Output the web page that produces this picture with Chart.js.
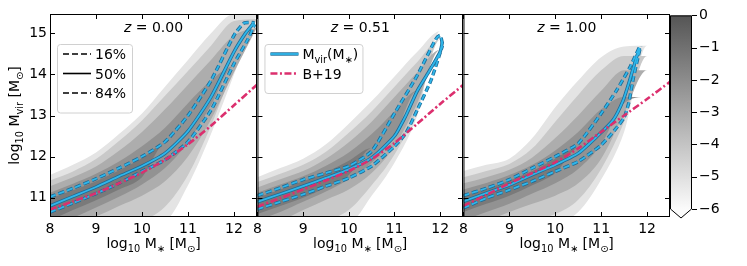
<!DOCTYPE html>
<html lang="en">
<head>
  <meta charset="UTF-8">
  <title>Halo mass vs stellar mass</title>
  <script src="https://cdn.jsdelivr.net/npm/chart.js"></script>
  <style>
    body {
      margin: 0;
      background-color: #fff;
    }
    #wrap {
      position: relative;
      width: 747px;
      height: 266px;
    }
    canvas {
      position: absolute;
      top: 0;
    }
  </style>
</head>
<body>
  <div id="wrap">
    <canvas id="p0" width="265" height="266" style="left:0px"></canvas>
    <canvas id="p1" width="222" height="266" style="left:249px"></canvas>
    <canvas id="p2" width="223" height="266" style="left:455px"></canvas>
    <canvas id="cb" width="85" height="266" style="left:662px"></canvas>
  </div>

  <script>
    // axes
    const xTicks = [8, 9, 10, 11, 12];
    const yTicks = [11, 12, 13, 14, 15];
    const cbTicks = [0, -1, -2, -3, -4, -5, -6];
    const redshifts = ['0.00', '0.51', '1.00'];

    // 2D histogram, read as nested shading levels (outer = faint ... inner = dark)
    const histX = [8, 8.5, 9, 9.5, 10, 10.5, 11, 11.5, 12, 12.5];
    const histHiZ0 = [
      [11.55, 11.8, 12.1, 12.55, 13.05, 13.7, 14.35, 15.0, 15.47, 15.47],
      [11.42, 11.64, 11.94, 12.38, 12.88, 13.48, 14.08, 14.7, 15.3, 15.35],
      [11.28, 11.5, 11.76, 12.14, 12.6, 13.15, 13.75, 14.35, 14.95, 15.15],
      [11.12, 11.34, 11.58, 11.88, 12.25, 12.7, 13.3, 13.85, 14.2, 14.2],
      [10.98, 11.18, 11.4, 11.66, 11.96, 12.3, 12.3, 12.3, 12.3, 12.3]
    ];
    const histLoZ0 = [
      [10.4, 10.4, 10.4, 10.4, 10.4, 10.45, 11.3, 12.55, 14.0, 15.47],
      [10.4, 10.4, 10.4, 10.4, 10.45, 10.78, 11.55, 12.75, 14.15, 15.35],
      [10.4, 10.4, 10.55, 10.8, 11.05, 11.4, 12.0, 12.9, 14.05, 15.15],
      [10.4, 10.52, 10.76, 11.02, 11.32, 11.72, 12.35, 13.25, 14.2, 14.2],
      [10.45, 10.7, 10.94, 11.2, 11.5, 12.3, 12.3, 12.3, 12.3, 12.3]
    ];
    const histHiZ1 = [
      [11.5, 11.72, 11.95, 12.3, 12.8, 13.35, 13.95, 14.55, 15.05, 15.05],
      [11.38, 11.58, 11.8, 12.12, 12.58, 13.1, 13.7, 14.3, 14.85, 14.85],
      [11.25, 11.45, 11.65, 11.95, 12.35, 12.85, 13.45, 14.05, 14.6, 14.6],
      [11.12, 11.32, 11.52, 11.78, 12.1, 12.55, 13.1, 13.6, 13.6, 13.6],
      [11.0, 11.2, 11.4, 11.62, 11.9, 12.2, 12.2, 12.2, 12.2, 12.2]
    ];
    const histLoZ1 = [
      [10.4, 10.4, 10.4, 10.4, 10.4, 11.05, 11.85, 13.0, 15.05, 15.05],
      [10.4, 10.4, 10.4, 10.45, 10.7, 11.3, 12.05, 13.15, 14.85, 14.85],
      [10.4, 10.45, 10.7, 10.95, 11.2, 11.6, 12.25, 13.3, 14.6, 14.6],
      [10.45, 10.65, 10.9, 11.15, 11.45, 11.85, 12.5, 13.6, 13.6, 13.6],
      [10.6, 10.8, 11.0, 11.25, 11.55, 12.2, 12.2, 12.2, 12.2, 12.2]
    ];
    const histHiZ2 = [
      [11.65, 11.8, 11.95, 12.45, 13.2, 13.85, 14.42, 14.68, 14.7, 14.7],
      [11.5, 11.65, 11.82, 12.2, 12.85, 13.5, 14.1, 14.45, 14.45, 14.45],
      [11.35, 11.5, 11.68, 11.98, 12.45, 13.0, 13.6, 14.1, 14.1, 14.1],
      [11.2, 11.36, 11.55, 11.8, 12.15, 12.6, 13.15, 13.45, 13.45, 13.45],
      [11.05, 11.22, 11.42, 11.65, 11.95, 12.2, 12.2, 12.2, 12.2, 12.2]
    ];
    const histLoZ2 = [
      [10.4, 10.4, 10.4, 10.4, 10.4, 10.65, 11.44, 12.6, 14.7, 14.7],
      [10.4, 10.4, 10.4, 10.45, 10.6, 10.95, 11.7, 12.85, 14.45, 14.45],
      [10.4, 10.45, 10.65, 10.85, 11.05, 11.35, 11.95, 13.05, 14.1, 14.1],
      [10.45, 10.65, 10.85, 11.1, 11.35, 11.7, 12.3, 13.3, 13.45, 13.45],
      [10.65, 10.85, 11.05, 11.3, 11.6, 12.2, 12.2, 12.2, 12.2, 12.2]
    ];

    // Mvir(M*) percentiles
    const p50xZ0 = [8, 8.5, 9, 9.5, 10, 10.5, 11, 11.5, 12, 12.25, 12.42];
    const p50yZ0 = [10.8, 11.03, 11.26, 11.52, 11.77, 12.08, 12.62, 13.45, 14.55, 15.0, 15.24];
    const p84xZ0 = [8, 8.5, 9, 9.5, 10, 10.5, 11, 11.5, 12, 12.22, 12.45];
    const p84yZ0 = [11.02, 11.23, 11.46, 11.72, 12.0, 12.36, 13.0, 13.85, 14.95, 15.25, 15.26];
    const p16xZ0 = [8, 8.5, 9, 9.5, 10, 10.5, 11, 11.5, 12, 12.3, 12.45];
    const p16yZ0 = [10.65, 10.87, 11.1, 11.35, 11.64, 11.92, 12.36, 13.13, 14.26, 14.85, 15.22];

    const p50xZ1 = [8, 8.5, 9, 9.5, 10, 10.5, 11, 11.25, 11.5, 11.75, 12.0, 12.05];
    const p50yZ1 = [10.9, 11.09, 11.28, 11.48, 11.69, 11.97, 12.5, 13.0, 13.6, 14.06, 14.55, 14.8];
    const p84xZ1 = [8, 8.5, 9, 9.5, 10, 10.5, 11, 11.5, 11.9, 12.0, 12.05];
    const p84yZ1 = [11.05, 11.24, 11.44, 11.6, 11.77, 12.13, 13.05, 13.98, 14.85, 14.95, 14.75];
    const p16xZ1 = [8, 8.5, 9, 9.5, 10, 10.5, 11, 11.25, 11.5, 11.8, 12.05];
    const p16yZ1 = [10.72, 10.9, 11.08, 11.28, 11.48, 11.77, 12.25, 12.57, 13.14, 13.86, 14.7];

    const p50xZ2 = [8, 8.5, 9, 9.5, 10, 10.5, 10.9, 11.26, 11.48, 11.62, 11.77, 11.84];
    const p50yZ2 = [10.91, 11.11, 11.31, 11.56, 11.8, 12.08, 12.48, 12.89, 13.37, 13.85, 14.42, 14.64];
    const p84xZ2 = [8, 8.5, 9, 9.5, 10, 10.5, 11, 11.33, 11.62, 11.84];
    const p84yZ2 = [11.05, 11.23, 11.44, 11.72, 12.0, 12.32, 13.05, 13.6, 14.16, 14.68];
    const p16xZ2 = [8, 8.5, 9, 9.5, 10, 10.5, 11, 11.3, 11.5, 11.6, 11.7, 11.8, 11.86];
    const p16yZ2 = [10.75, 10.99, 11.19, 11.4, 11.64, 11.88, 12.28, 12.65, 12.95, 13.3, 13.9, 14.4, 14.68];

    // B+19 relation
    const b19x = [8, 8.5, 9, 9.5, 10, 10.5, 11, 11.5, 12, 12.5];
    const b19yZ0 = [10.71, 10.91, 11.11, 11.35, 11.61, 11.92, 12.3, 12.75, 13.25, 13.75];
    const b19yZ1 = [10.78, 10.99, 11.2, 11.42, 11.65, 11.94, 12.33, 12.8, 13.28, 13.74];
    const b19yZ2 = [10.8, 11.07, 11.35, 11.6, 11.86, 12.2, 12.6, 13.0, 13.4, 13.82];

    // styles
    const FONT = 'DejaVu Sans';
    const levelColours = ['#e4e4e4', '#c9c9c9', '#adadad', '#929292', '#7a7a7a'];
    const blue = '#2fb6ea';
    const blueEdge = '#1f6a94';
    const pink = '#dc2f6e';
    const dashed = [6, 3];
    const dashDot = [7, 2.5, 2, 2.5];

    const zip = (xs, ys) => xs.map((x, i) => ({ x: x, y: ys[i] }));

    function drawRich(ctx, parts, x, y, size, align, angle) {
      ctx.save();
      ctx.translate(x, y);
      if (angle) ctx.rotate(angle);
      const fontOf = k => (k === 'i' ? 'italic ' : '') + (k === 's' ? size * 0.7 : size) + 'px "' + FONT + '"';
      let total = 0;
      const widths = parts.map(([t, k]) => {
        ctx.font = fontOf(k);
        const w = ctx.measureText(t).width;
        total += w;
        return w;
      });
      let cx = align === 'center' ? -total / 2 : 0;
      ctx.textAlign = 'left';
      ctx.textBaseline = 'alphabetic';
      ctx.fillStyle = '#000';
      parts.forEach(([t, k], i) => {
        ctx.font = fontOf(k);
        ctx.fillText(t, cx, k === 's' ? size * 0.25 : 0);
        cx += widths[i];
      });
      ctx.restore();
    }

    function strokeLine(ctx, x0, y0, x1, y1, color, width, dash) {
      ctx.save();
      ctx.strokeStyle = color;
      ctx.lineWidth = width;
      ctx.setLineDash(dash || []);
      ctx.beginPath();
      ctx.moveTo(x0, y0);
      ctx.lineTo(x1, y1);
      ctx.stroke();
      ctx.restore();
    }

    // frame, inward ticks, titles, legend
    const decorPlugin = {
      id: 'decor',
      afterDatasetsDraw(chart, args, opts) {
        const { ctx, chartArea: a, scales } = chart;
        ctx.save();
        ctx.strokeStyle = '#000';
        ctx.lineWidth = 1;
        xTicks.forEach(v => {
          const px = Math.round(scales.x.getPixelForValue(v)) + 0.5;
          strokeLine(ctx, px, a.bottom, px, a.bottom - 5, '#000', 1);
          strokeLine(ctx, px, a.top, px, a.top + 5, '#000', 1);
        });
        yTicks.forEach(v => {
          const py = Math.round(scales.y.getPixelForValue(v)) + 0.5;
          strokeLine(ctx, a.left, py, a.left + 5, py, '#000', 1);
          strokeLine(ctx, a.right, py, a.right - 5, py, '#000', 1);
        });
        ctx.strokeRect(a.left + 0.5, a.top + 0.5, a.width - 1, a.height - 1);
        ctx.restore();
      },
      afterDraw(chart, args, opts) {
        const { ctx, chartArea: a } = chart;
        const mid = (a.left + a.right) / 2;
        drawRich(ctx, [['z', 'i'], [' = ' + opts.z, 'n']], mid, a.top + 18, 14, 'center');
        drawRich(ctx, [['log', 'n'], ['10', 's'], [' M', 'n'], ['\u2217', 's'], [' [M', 'n'], ['\u2299', 's'], [']', 'n']],
          mid, 248, 14, 'center');
        if (opts.yTitle) {
          drawRich(ctx, [['log', 'n'], ['10', 's'], [' M', 'n'], ['vir', 's'], [' [M', 'n'], ['\u2299', 's'], [']', 'n']],
            19, (a.top + a.bottom) / 2, 14, 'center', -Math.PI / 2);
        }
        if (opts.legend) {
          const items = opts.legend;
          const bx = a.left + 7, by = a.top + 30;
          const bw = opts.legendWidth, bh = 10 + items.length * 19.5;
          ctx.save();
          ctx.fillStyle = 'rgba(255,255,255,0.8)';
          ctx.strokeStyle = '#d0d0d0';
          ctx.lineWidth = 1;
          ctx.beginPath();
          ctx.roundRect(bx + 0.5, by + 0.5, bw, bh, 3);
          ctx.fill();
          ctx.stroke();
          ctx.restore();
          items.forEach((it, i) => {
            const ry = by + 10 + i * 19.5;
            if (it.edge) strokeLine(ctx, bx + 6, ry, bx + 34, ry, it.edge, 3.4, it.dash);
            strokeLine(ctx, bx + 6, ry, bx + 34, ry, it.color, it.width, it.dash);
            drawRich(ctx, it.label, bx + 38, ry + 5, 14, 'left');
          });
        }
      }
    };

    function bandDatasets(hiLevels, loLevels) {
      const sets = [];
      hiLevels.forEach((hi, i) => {
        sets.push({
          data: zip(histX, hi), fill: '+1', backgroundColor: levelColours[i],
          cubicInterpolationMode: 'monotone',
          borderColor: 'transparent', borderWidth: 0, pointRadius: 0, order: 20 - i
        });
        sets.push({
          data: zip(histX, loLevels[i]), fill: false, cubicInterpolationMode: 'monotone',
          borderColor: 'transparent', borderWidth: 0, pointRadius: 0, order: 20 - i
        });
      });
      return sets;
    }

    function lineSet(xs, ys, color, width, dash, order) {
      return {
        data: zip(xs, ys), borderColor: color, borderWidth: width, borderDash: dash,
        pointRadius: 0, fill: false, tension: 0.2, order: order
      };
    }

    const panels = [
      { id: 'p0', z: redshifts[0], padL: 0, yAxis: true, hi: histHiZ0, lo: histLoZ0,
        p50: [p50xZ0, p50yZ0], p84: [p84xZ0, p84yZ0], p16: [p16xZ0, p16yZ0], b19: b19yZ0,
        legend: [
          { label: [['16%', 'n']], color: '#000', width: 1.6, dash: dashed },
          { label: [['50%', 'n']], color: '#000', width: 1.6, dash: [] },
          { label: [['84%', 'n']], color: '#000', width: 1.6, dash: dashed }
        ], legendWidth: 75 },
      { id: 'p1', z: redshifts[1], padL: 8, yAxis: false, hi: histHiZ1, lo: histLoZ1,
        p50: [p50xZ1, p50yZ1], p84: [p84xZ1, p84yZ1], p16: [p16xZ1, p16yZ1], b19: b19yZ1,
        legend: [
          { label: [['M', 'n'], ['vir', 's'], ['(M', 'n'], ['\u2217', 's'], [')', 'n']], color: blue, edge: blueEdge, width: 1.8, dash: [] },
          { label: [['B+19', 'n']], color: pink, width: 2.6, dash: dashDot }
        ], legendWidth: 98 },
      { id: 'p2', z: redshifts[2], padL: 8, yAxis: false, hi: histHiZ2, lo: histLoZ2,
        p50: [p50xZ2, p50yZ2], p84: [p84xZ2, p84yZ2], p16: [p16xZ2, p16yZ2], b19: b19yZ2,
        legend: null }
    ];

    panels.forEach(p => {
      const datasets = bandDatasets(p.hi, p.lo).concat([
        lineSet(p.p84[0], p.p84[1], blueEdge, 3.4, dashed, 5),
        lineSet(p.p16[0], p.p16[1], blueEdge, 3.4, dashed, 5),
        lineSet(p.p50[0], p.p50[1], blueEdge, 3.4, [], 5),
        lineSet(p.p84[0], p.p84[1], blue, 1.8, dashed, 4),
        lineSet(p.p16[0], p.p16[1], blue, 1.8, dashed, 4),
        lineSet(p.p50[0], p.p50[1], blue, 1.8, [], 4),
        lineSet(b19x, p.b19, pink, 2.6, dashDot, 1)
      ]);
      new Chart(document.getElementById(p.id), {
        type: 'line',
        data: { datasets: datasets },
        options: {
          responsive: false,
          devicePixelRatio: 1,
          animation: false,
          events: [],
          layout: { padding: { left: p.padL, right: 8, top: 14, bottom: 0 } },
          plugins: {
            legend: { display: false },
            tooltip: { enabled: false },
            decor: { z: p.z, yTitle: p.yAxis, legend: p.legend, legendWidth: p.legendWidth }
          },
          scales: {
            x: {
              type: 'linear', min: 8, max: 12.5,
              grid: { display: false, drawTicks: false }, border: { display: false },
              afterBuildTicks: s => { s.ticks = xTicks.map(v => ({ value: v })); },
              afterFit: s => { s.height = 49; },
              ticks: { padding: 4, color: '#000', font: { family: FONT, size: 14 }, maxRotation: 0 }
            },
            y: {
              type: 'linear', min: 10.53, max: 15.47, display: p.yAxis,
              grid: { display: false, drawTicks: false }, border: { display: false },
              afterBuildTicks: s => { s.ticks = yTicks.map(v => ({ value: v })); },
              afterFit: s => { s.width = p.yAxis ? 50 : 0; },
              ticks: { padding: 3, color: '#000', font: { family: FONT, size: 14 } }
            }
          }
        },
        plugins: [decorPlugin]
      });
    });

    // colour bar
    function barGradient(context) {
      const a = context.chart.chartArea;
      if (!a) return '#999';
      const g = context.chart.ctx.createLinearGradient(0, a.bottom, 0, a.top);
      g.addColorStop(0, '#fbfbfb');
      g.addColorStop(1, '#555555');
      return g;
    }

    const colourbarPlugin = {
      id: 'colourbar',
      afterDatasetsDraw(chart) {
        const { ctx, chartArea: a, scales } = chart;
        ctx.save();
        ctx.fillStyle = '#fbfbfb';
        ctx.strokeStyle = '#000';
        ctx.lineWidth = 1;
        ctx.beginPath();
        ctx.moveTo(a.left + 0.5, a.bottom);
        ctx.lineTo((a.left + a.right) / 2, a.bottom + 9);
        ctx.lineTo(a.right - 0.5, a.bottom);
        ctx.closePath();
        ctx.fill();
        ctx.beginPath();
        ctx.moveTo(a.left + 0.5, a.top + 0.5);
        ctx.lineTo(a.right - 0.5, a.top + 0.5);
        ctx.lineTo(a.right - 0.5, a.bottom);
        ctx.lineTo((a.left + a.right) / 2, a.bottom + 9);
        ctx.lineTo(a.left + 0.5, a.bottom);
        ctx.closePath();
        ctx.stroke();
        cbTicks.forEach(v => {
          const py = Math.round(scales.y.getPixelForValue(v)) + 0.5;
          strokeLine(ctx, a.right, py, a.right + 5, py, '#000', 1);
        });
        ctx.restore();
        drawRich(ctx, [['log', 'n'], ['10', 's'], [' halo frac. / bin size', 'n']],
          736, 116, 14, 'center', -Math.PI / 2);
      }
    };

    new Chart(document.getElementById('cb'), {
      type: 'bar',
      data: {
        labels: [''],
        datasets: [{ data: [[-6, 0]], backgroundColor: barGradient, borderWidth: 0,
          barPercentage: 1, categoryPercentage: 1 }]
      },
      options: {
        responsive: false,
        devicePixelRatio: 1,
        animation: false,
        events: [],
        layout: { padding: { left: 8, right: 0, top: 14, bottom: 57 } },
        plugins: { legend: { display: false }, tooltip: { enabled: false } },
        scales: {
          x: { display: false },
          y: {
            position: 'right', min: -6, max: 0,
            grid: { display: false, drawTicks: false }, border: { display: false },
            afterBuildTicks: s => { s.ticks = cbTicks.map(v => ({ value: v })); },
            afterFit: s => { s.width = 55; },
            ticks: {
              padding: 7, color: '#000', font: { family: FONT, size: 14 },
              callback: v => (v < 0 ? '\u2212' + Math.abs(v) : String(v))
            }
          }
        }
      },
      plugins: [colourbarPlugin]
    });
  </script>
</body>
</html>
